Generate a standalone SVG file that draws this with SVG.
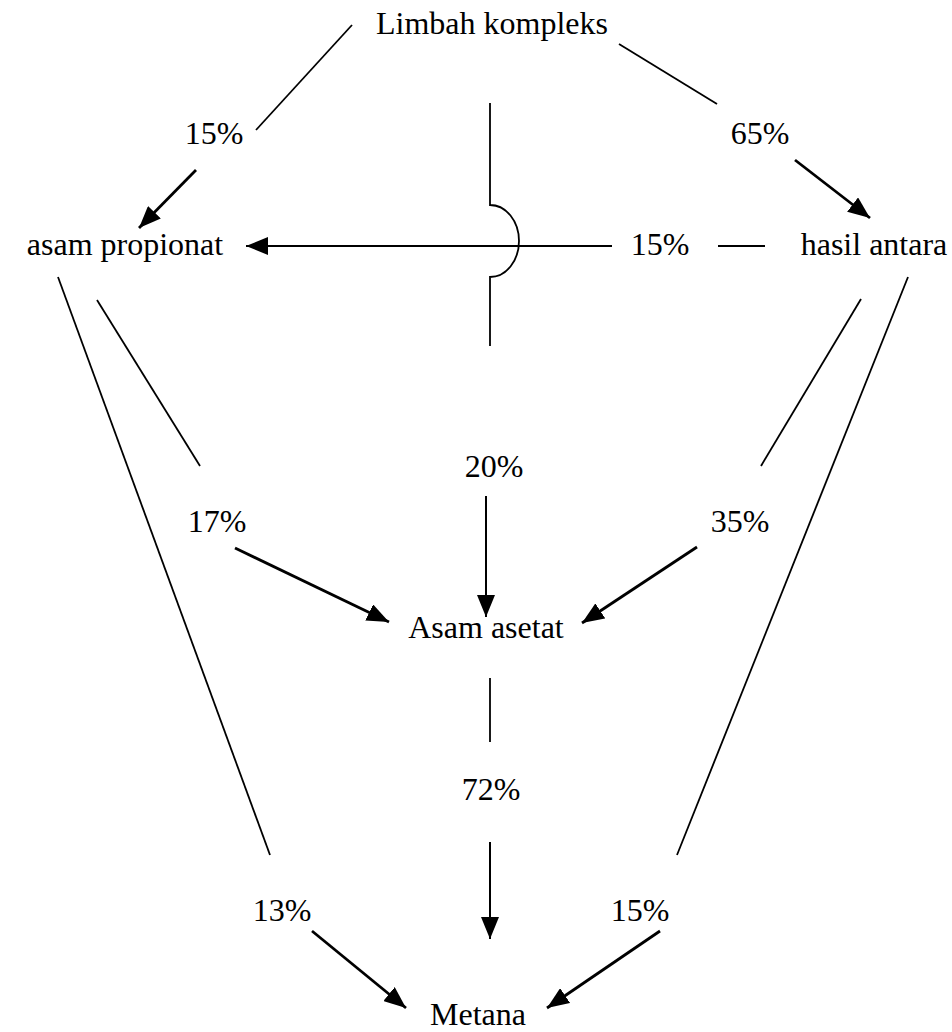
<svg xmlns="http://www.w3.org/2000/svg" width="952" height="1032" viewBox="0 0 952 1032">
<style>
text{font-family:'Liberation Serif','Times New Roman',Times,serif;font-size:32px;fill:#000;text-anchor:middle}
.ln{stroke:#000;stroke-width:1.8;fill:none}
.ar{stroke:#000;stroke-width:2.8;fill:none;marker-end:url(#a2)}
.av{stroke:#000;stroke-width:2;fill:none;marker-end:url(#a2)}
</style>
<defs>
<marker id="a2" markerUnits="userSpaceOnUse" markerWidth="22" markerHeight="18" refX="22" refY="9" orient="auto" viewBox="0 0 22 18">
<path d="M0,0 L22,9 L0,18 z" fill="#000"/>
</marker>
</defs>
<rect width="952" height="1032" fill="#fff"/>
<g id="connectors">
<line class="ln" x1="352" y1="25" x2="256" y2="130"/>
<line class="ar" x1="196" y1="170" x2="139" y2="228"/>
<line class="ln" x1="619" y1="44" x2="717" y2="104"/>
<line class="ar" x1="795" y1="160" x2="870" y2="218"/>
<line class="av" x1="612" y1="246" x2="246" y2="246"/>
<line class="ln" x1="718" y1="246" x2="765" y2="246" style="stroke-width:2"/>
<path class="ln" d="M490,103 V205 A29,36 0 0 1 490,277 V346"/>
<line class="ln" x1="97" y1="300" x2="200" y2="466"/>
<line class="ar" x1="235" y1="548" x2="389" y2="622"/>
<line class="av" x1="486" y1="496" x2="486" y2="617"/>
<line class="ln" x1="861" y1="299" x2="761" y2="466"/>
<line class="ar" x1="697" y1="547" x2="582" y2="623"/>
<line class="ln" x1="58" y1="277" x2="270" y2="855"/>
<line class="ln" x1="908" y1="277" x2="677" y2="855"/>
<line class="ln" x1="490" y1="678" x2="490" y2="742"/>
<line class="av" x1="490" y1="842" x2="490" y2="939"/>
<line class="ar" x1="312" y1="931" x2="406" y2="1008"/>
<line class="ar" x1="660" y1="931" x2="547" y2="1008"/>
</g>
<g id="limbah"><text x="492" y="34">Limbah kompleks</text></g>
<g id="propionat"><text x="125" y="255">asam propionat</text></g>
<g id="hasil"><text x="874" y="255">hasil antara</text></g>
<g id="asetat"><text x="486" y="638">Asam asetat</text></g>
<g id="metana"><text x="478" y="1025">Metana</text></g>
<g id="labels">
<text x="214" y="144">15%</text>
<text x="760" y="144">65%</text>
<text x="660" y="255">15%</text>
<text x="494" y="477">20%</text>
<text x="217" y="532">17%</text>
<text x="740" y="532">35%</text>
<text x="491" y="800">72%</text>
<text x="282" y="921">13%</text>
<text x="640" y="921">15%</text>
</g>
</svg>
